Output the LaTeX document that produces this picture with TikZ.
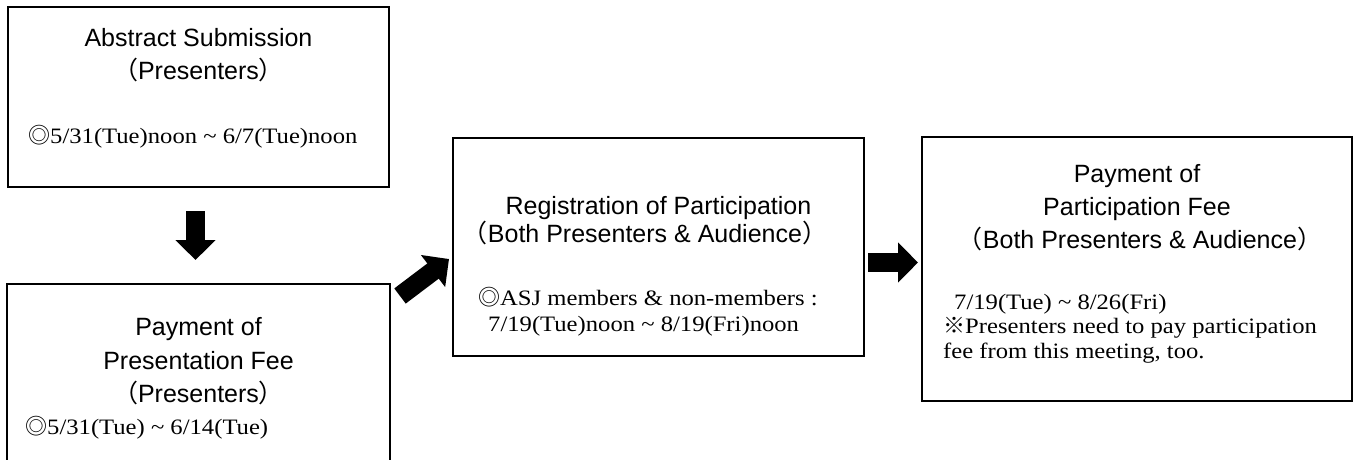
\documentclass[tikz,border=0pt]{standalone}
\usepackage{fontspec}
\usetikzlibrary{arrows.meta}
\newfontfamily\gothic{Liberation Sans}
\newfontfamily\serf{Liberation Serif}[FakeStretch=1.12]
\newfontfamily\cjk{Noto Sans CJK JP}
\newcommand\lp{{\cjk （}}
\newcommand\rp{{\cjk ）}}
\tikzset{
  box/.style={draw=black, line width=1.6pt, rectangle, inner sep=0pt},
  head/.style={font=\gothic\fontsize{25}{30}\selectfont, anchor=base, inner sep=0pt},
  body/.style={font=\serf\fontsize{22}{26}\selectfont, anchor=base west, inner sep=0pt},
  blockarrow/.style={line width=19pt, -{Triangle[length=20pt,width=39pt]}}
}
\begin{document}
\begin{tikzpicture}[x=1pt,y=-1pt]
\clip (0,0) rectangle (1360,459);
\fill[white] (0,0) rectangle (1360,459);
% boxes
\node[box, minimum width=381pt, minimum height=180pt] (b1) at (198.5,97) {};
\node[box, minimum width=383pt, minimum height=196pt] (b2) at (198.5,382) {};
\node[box, minimum width=411pt, minimum height=218pt] (b3) at (658.5,247) {};
\node[box, minimum width=430pt, minimum height=264pt] (b4) at (1137,269) {};
% box 1
\node[head] (t11) at (198.5,46.5) {Abstract Submission};
\node[head] (t12) at (198.5,79) {\lp Presenters\rp};
\node[body] (t13) at (28,143) {{\cjk ◎}5/31(Tue)noon \textasciitilde{} 6/7(Tue)noon};
% box 2
\node[head] (t21) at (198.5,335) {Payment of};
\node[head] (t22) at (198.5,369) {Presentation Fee};
\node[head] (t23) at (198.5,402) {\lp Presenters\rp};
\node[body] (t24) at (25,434) {{\cjk ◎}5/31(Tue) \textasciitilde{} 6/14(Tue)};
% box 3
\node[head] (t31) at (658.5,214) {Registration of Participation};
\node[head] (t32) at (645,242) {\lp Both Presenters \& Audience\rp};
\node[body] (t33) at (478,305) {{\cjk ◎}ASJ members \& non-members :};
\node[body] (t34) at (488,331) {7/19(Tue)noon \textasciitilde{} 8/19(Fri)noon};
% box 4
\node[head] (t41) at (1137,182) {Payment of};
\node[head] (t42) at (1137,215) {Participation Fee};
\node[head] (t43) at (1140,248) {\lp Both Presenters \& Audience\rp};
\node[body] (t44) at (954,309) {7/19(Tue) \textasciitilde{} 8/26(Fri)};
\node[body] (t45) at (943,333) {{\cjk ※}Presenters need to pay participation};
\node[body] (t46) at (943,358) {fee from this meeting, too.};
% arrows
\coordinate (a1s) at (195.5,211);
\coordinate (a1e) at (195.5,260);
\coordinate (a2s) at (400,296);
\coordinate (a2e) at (449,259);
\coordinate (a3s) at (868,262.5);
\coordinate (a3e) at (918,262.5);
\draw[blockarrow] (a1s) -- (a1e);
\draw[blockarrow] (a2s) -- (a2e);
\draw[blockarrow] (a3s) -- (a3e);
\end{tikzpicture}
\end{document}
